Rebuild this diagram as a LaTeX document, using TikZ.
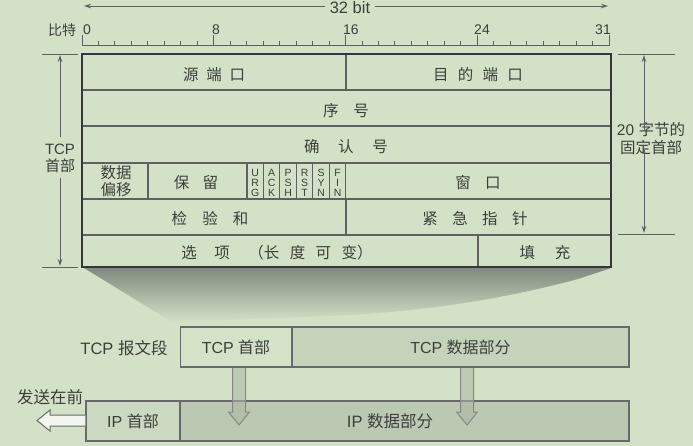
\documentclass[tikz,border=0pt]{standalone}
\usepackage{fontspec}
\setmainfont{Liberation Sans}
\newfontfamily\zhfont{Noto Sans CJK SC}
\newcommand{\zh}[1]{{\zhfont #1}}
\newcommand{\cg}[1]{\hspace{#1em}}
\usetikzlibrary{arrows.meta}
\definecolor{bg}{RGB}{211,226,198}
\definecolor{ink}{RGB}{62,62,62}
\definecolor{frame}{RGB}{55,52,65}
\definecolor{rulec}{RGB}{95,95,100}
\definecolor{shadowc}{RGB}{128,138,128}
\definecolor{tcphead}{RGB}{212,227,200}
\definecolor{tcpdata}{RGB}{198,211,187}
\definecolor{iphead}{RGB}{203,217,192}
\definecolor{ipdata}{RGB}{188,201,178}
\definecolor{boxline}{RGB}{105,105,108}
\definecolor{arrfill}{RGB}{170,182,164}
\begin{document}
\begin{tikzpicture}[x=1pt,y=-1pt,
  every node/.style={text=ink, inner sep=0pt},
  cell/.style={font=\fontsize{15.5}{17.5}\selectfont, align=center},
  lab/.style={font=\fontsize{14}{15}\selectfont},
  flag/.style={font=\fontsize{10.5}{10}\selectfont, align=center},
  dim/.style={draw=rulec, line width=0.8pt},
  dimarr/.style={dim, -{Stealth[length=7pt,width=4.5pt]}},
  seg/.style={draw=boxline, line width=1.4pt, minimum height=40pt, inner sep=0pt,
    font=\fontsize{16}{18}\selectfont},
  inner/.style={draw=rulec, line width=1.1pt},
  downarr/.style={draw=boxline!80, fill=arrfill, fill opacity=0.55, line width=1pt},
  sendarr/.style={draw=boxline, fill=white!70!bg, line width=1pt}]
% background and bounding box
\fill[bg] (0,0) rectangle (693,446);
\useasboundingbox (0,0) rectangle (693,446);

% shadow projecting from the header to the segment
\shade[top color=shadowc, bottom color=bg] (84,268) -- (611,268) -- (578,279)
  .. controls (500,300) and (420,312) .. (330,316) -- (172,322) -- cycle;

% top "32 bit" dimension
\node[font=\fontsize{16.5}{18}\selectfont] (bits) at (350,7.5) {32 bit};
\coordinate (b0) at (84,6);
\coordinate (b32) at (608,6);
\draw[dimarr] ([xshift=-5pt]bits.west |- b0) -- (b0);
\draw[dimarr] ([xshift=5pt]bits.east |- b32) -- (b32);

% ruler
\node[lab] (bitword) at (62,30) {\zh{比特}};
\node[lab, anchor=west] (l0) at (83,30) {0};
\node[lab, anchor=west] (l8) at (212,30) {8};
\node[lab, anchor=west] (l16) at (343,30) {16};
\node[lab] (l24) at (482,30) {24};
\node[lab, anchor=east] (l31) at (611,30) {31};
\draw[rulec, line width=0.9pt] (82,35) -- (82,45) -- (609,45) -- (609,35);
\foreach \i in {1,...,31} {
  \draw[rulec, line width=0.9pt] ({82+\i*16.47},45) -- ++(0,-4);
}
\foreach \i in {8,16,24} {
  \draw[rulec, line width=0.9pt] ({82+\i*16.47},45) -- ++(0,-10);
}

% header table: row and column rules
\foreach \y in {90,126,163,199,235} {
  \draw[inner] (82,\y) -- (611,\y);
}
\draw[inner] (346,54) -- (346,90);
\draw[inner] (148,163) -- (148,199);
\foreach \i in {0,...,6} {
  \draw[inner] ({247+\i*16.47},163) -- ({247+\i*16.47},199);
}
\draw[inner] (346,199) -- (346,235);
\draw[inner] (478,235) -- (478,267);
\draw[frame, line width=2pt] (82,54) rectangle (611,267);

% table texts
\node[cell] (srcport) at (214,75) {\zh{源\cg{0.5}端\cg{0.5}口}};
\node[cell] (dstport) at (478,75) {\zh{目\cg{0.6}的\cg{0.6}端\cg{0.6}口}};
\node[cell] (seqno) at (346,111) {\zh{序\cg{0.95}号}};
\node[cell] (ackno) at (346,147) {\zh{确\cg{1.2}认\cg{1.2}号}};
\node[cell] (offset) at (116,181) {\zh{数据}\\\zh{偏移}};
\node[cell] (reserved) at (196,183) {\zh{保\cg{0.87}留}};
\node[flag] (furg) at (255.2,182.5) {U\\R\\G};
\node[flag] (fack) at (271.7,182.5) {A\\C\\K};
\node[flag] (fpsh) at (288.2,182.5) {P\\S\\H};
\node[flag] (frst) at (304.6,182.5) {R\\S\\T};
\node[flag] (fsyn) at (321.1,182.5) {S\\Y\\N};
\node[flag] (ffin) at (337.6,182.5) {F\\I\\N};
\node[cell] (window) at (478,183) {\zh{窗\cg{0.93}口}};
\node[cell] (checksum) at (210,219) {\zh{检\cg{0.97}验\cg{0.97}和}};
\node[cell] (urgent) at (475,219) {\zh{紧\cg{0.93}急\cg{0.93}指\cg{0.93}针}};
\node[cell] (options) at (277,253) {\zh{选\cg{1.13}项\cg{1.2}（长\cg{0.67}度\cg{0.67}可\cg{0.67}变）}};
\node[cell] (padding) at (545,253) {\zh{填\cg{1.27}充}};

% left dimension: TCP header
\coordinate (lt) at (60,55);
\coordinate (lb) at (60,266);
\draw[dim] (42,54) -- (78,54);
\draw[dim] (42,267) -- (78,267);
\node[cell, font=\fontsize{15}{17}\selectfont] (tcpheadlab) at (60,158) {TCP\\\zh{首部}};
\draw[dimarr] ([yshift=6pt]tcpheadlab.north) -- (lt);
\draw[dimarr] ([yshift=-5pt]tcpheadlab.south) -- (lb);

% right dimension: 20-byte fixed header
\coordinate (rt) at (644,55);
\coordinate (rb) at (644,233);
\draw[dim] (618,54) -- (675,54);
\draw[dim] (618,234) -- (675,234);
\node[cell, font=\fontsize{15.5}{18}\selectfont] (fixedlab) at (651,139) {20 \zh{字节的}\\\zh{固定首部}};
\draw[dimarr] (rt |- fixedlab.north) ++(0,8) -- (rt);
\draw[dimarr] (rb |- fixedlab.south) ++(0,-5) -- (rb);

% TCP segment
\node[font=\fontsize{16.5}{18}\selectfont] (seglab) at (124,348) {TCP \zh{报文段}};
\node[seg, fill=tcphead, minimum width=111pt] (tcph) at (236,347) {TCP \zh{首部}};
\node[seg, fill=tcpdata, minimum width=337pt] (tcpd) at (460.5,347) {TCP \zh{数据部分}};

% IP datagram
\node[seg, fill=iphead, minimum width=94pt] (iph) at (133,421) {IP \zh{首部}};
\node[seg, fill=ipdata, minimum width=449pt] (ipd) at (404.5,421) {};
\node[font=\fontsize{16.5}{18}\selectfont] (ipdlab) at (390,421) {IP \zh{数据部分}};

% hollow down arrows from TCP segment into IP datagram
\foreach \c in {239,467} {
  \draw[downarr] (\c-6.5,368) -- (\c-6.5,412) -- (\c-10.5,412) -- (\c,425)
    -- (\c+10.5,412) -- (\c+6.5,412) -- (\c+6.5,368);
}

% "sent first" arrow
\node[font=\fontsize{16.5}{18}\selectfont] (sendlab) at (50,397) {\zh{发送在前}};
\coordinate (sendtip) at (37,420.5);
\draw[sendarr] (iph.west |- 0,415) -- (50,415) -- (50,410) -- (sendtip)
  -- (50,431) -- (50,426) -- (iph.west |- 0,426);
\end{tikzpicture}
\end{document}
